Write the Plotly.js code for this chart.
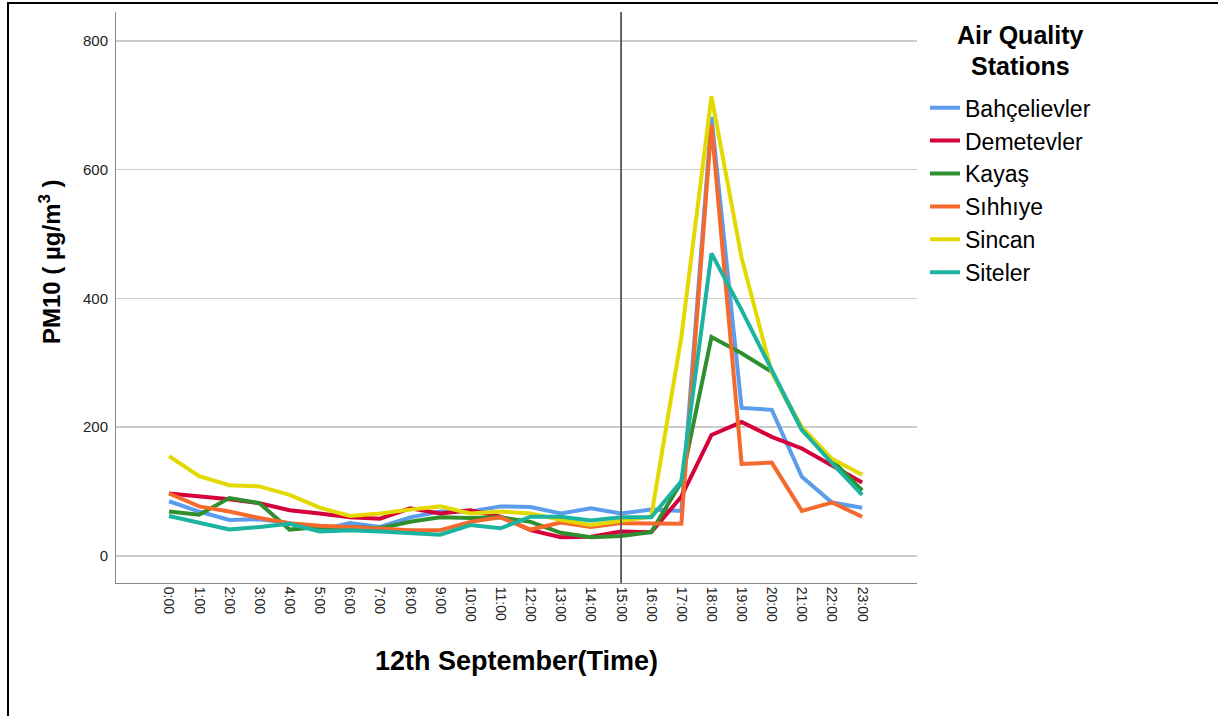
<!DOCTYPE html>
<html>
<head>
<meta charset="utf-8">
<script src="https://cdn.plot.ly/plotly-3.0.1.min.js"></script>
<style>
  html, body { margin: 0; padding: 0; background: #fff; }
  #wrap { position: relative; width: 1218px; height: 716px; }
  #chart { width: 1218px; height: 716px; }
  #frameTop { position: absolute; left: 8px; top: 2px; width: 1210px; height: 2px; background: #000; pointer-events: none; }
  #frameLeft { position: absolute; left: 7px; top: 2px; width: 2px; height: 714px; background: #000; pointer-events: none; }
</style>
</head>
<body>
<div id="wrap">
  <div id="chart"></div>
  <div id="frameTop"></div>
  <div id="frameLeft"></div>
</div>
<script>
const hours = ["0:00","1:00","2:00","3:00","4:00","5:00","6:00","7:00","8:00","9:00","10:00","11:00",
               "12:00","13:00","14:00","15:00","16:00","17:00","18:00","19:00","20:00","21:00","22:00","23:00"];

const stations = ["Bahçelievler","Demetevler","Kayaş","Sıhhıye","Sincan","Siteler"];

const bahcelievler = [85, 69, 56, 57, 51, 40, 51, 45, 60, 69, 69, 77, 76, 66, 74, 66, 72, 70, 682, 230, 227, 123, 83, 75];
const demetevler   = [97, 93, 88, 82, 71, 66, 60, 58, 74, 66, 71, 61, 40, 29, 30, 38, 37, 92, 188, 208, 185, 167, 141, 114];
const kayas        = [69, 64, 90, 82, 41, 45, 45, 43, 53, 60, 59, 60, 53, 36, 29, 31, 37, 115, 340, 315, 286, 196, 149, 102];
const sihhiye      = [97, 77, 69, 59, 51, 47, 45, 43, 40, 40, 53, 60, 41, 52, 45, 51, 50, 50, 670, 143, 145, 70, 83, 61];
const sincan       = [155, 124, 110, 108, 95, 75, 62, 66, 72, 77, 66, 69, 66, 56, 48, 55, 61, 340, 714, 463, 285, 200, 151, 126];
const siteler      = [62, 52, 41, 45, 50, 38, 40, 38, 36, 33, 48, 43, 61, 61, 55, 60, 60, 116, 470, 382, 289, 196, 144, 95];

const yTicks = [0, 200, 400, 600, 800];
const markerHour = "15:00";
const legendTitleLines = ["Air Quality", "Stations"];

const seriesValues = [bahcelievler, demetevler, kayas, sihhiye, sincan, siteler];
const colors = ["#5C9CEC", "#D6003A", "#2F8F2F", "#F56A2C", "#E3D800", "#1AB4A0"];

const traces = stations.map((name, i) => ({
  type: "scatter",
  mode: "lines",
  name: name,
  x: hours,
  y: seriesValues[i],
  line: { color: colors[i], width: 4 }
}));

const fontFam = "Liberation Sans, Arial, sans-serif";
const titleYs = [35, 66];

const layout = {
  width: 1218,
  height: 716,
  paper_bgcolor: "#ffffff",
  plot_bgcolor: "#ffffff",
  margin: { l: 116, r: 301, t: 12, b: 133 },
  font: { family: fontFam, color: "#000" },
  showlegend: true,
  legend: {
    x: 1.010, xanchor: "left",
    y: 0.870, yanchor: "top",
    font: { family: fontFam, size: 23, color: "#000" },
    tracegroupgap: 0,
    itemwidth: 30
  },
  xaxis: {
    type: "category",
    categoryarray: hours,
    range: [-1.76, 24.82],
    tickangle: 90,
    tickfont: { family: fontFam, size: 14, color: "#222" },
    showgrid: false,
    zeroline: false,
    showline: true,
    linecolor: "#888",
    linewidth: 1,
    ticks: "",
    title: { text: "<b>12th September(Time)</b>", font: { family: fontFam, size: 27, color: "#000" }, standoff: 30 }
  },
  yaxis: {
    range: [-42, 845],
    tickvals: yTicks,
    ticktext: yTicks.map(String),
    tickfont: { family: fontFam, size: 15, color: "#222" },
    showgrid: true,
    gridcolor: "#cccccc",
    gridwidth: 1.5,
    zeroline: false,
    showline: true,
    linecolor: "#888",
    linewidth: 1,
    ticks: "",
    ticklabelstandoff: 4
  },
  annotations: [
    {
      text: "<b>PM10 ( µg/m<sup>3</sup> )</b>",
      xref: "paper", yref: "paper",
      x: (50 - 116) / 801, y: (583 - 262) / 571,
      xanchor: "center", yanchor: "middle",
      textangle: -90,
      showarrow: false,
      font: { family: fontFam, size: 24, color: "#000" }
    }
  ].concat(legendTitleLines.map((t, i) => ({
      text: "<b>" + t + "</b>",
      xref: "paper", yref: "paper",
      x: (1020 - 116) / 801, y: (583 - titleYs[i]) / 571,
      xanchor: "center", yanchor: "middle",
      borderpad: 0,
      showarrow: false,
      font: { family: fontFam, size: 25, color: "#000" }
  }))),
  shapes: [
    {
      type: "line",
      xref: "x", yref: "paper",
      x0: markerHour, x1: markerHour,
      y0: 0, y1: 1,
      line: { color: "#555", width: 1.8 }
    }
  ]
};

Plotly.newPlot("chart", traces, layout, { displayModeBar: false, staticPlot: true });
</script>
</body>
</html>
